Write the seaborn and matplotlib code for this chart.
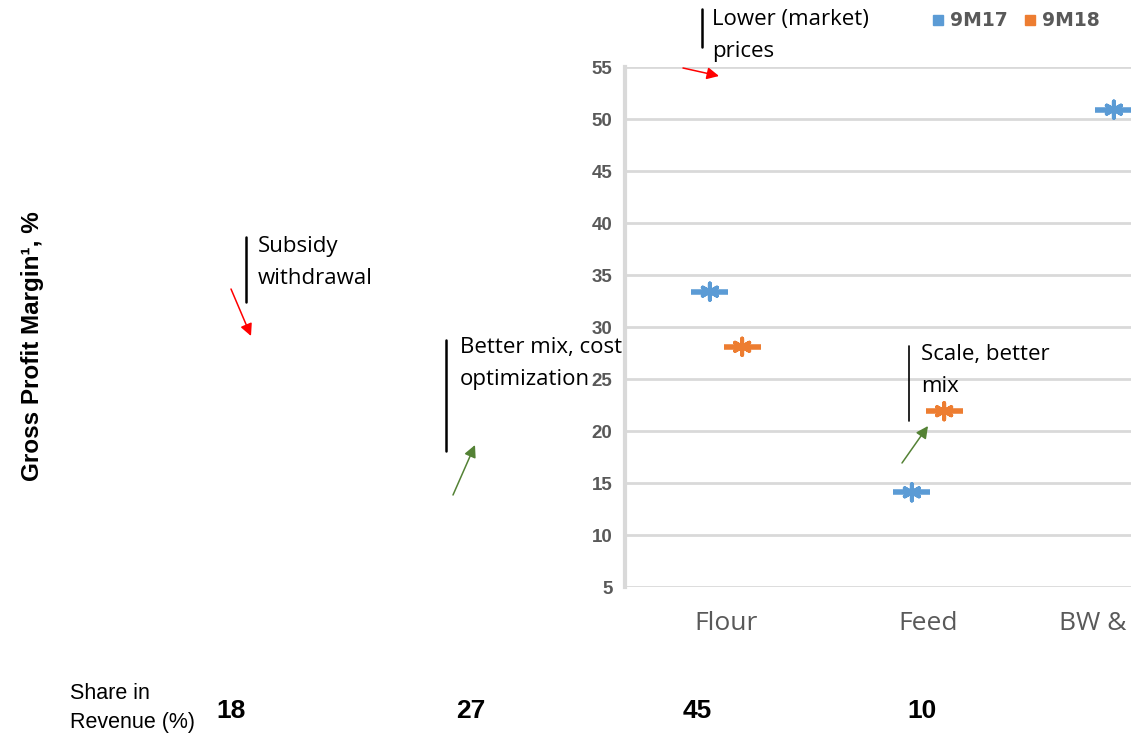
import numpy as np
import pandas as pd
import matplotlib
matplotlib.use("Agg")
import matplotlib.pyplot as plt
import seaborn as sns
from matplotlib.lines import Line2D

# ---------------- data ----------------
categories = ["Flour", "Feed", "BW & Pasta"]
series = ["9M17", "9M18"]
margin_9m17 = [33.4, 14.1, 50.9]
margin_9m18 = [28.1, 21.9, np.nan]
share_labels = ["18", "27", "45", "10"]
yticks = [5, 10, 15, 20, 25, 30, 35, 40, 45, 50, 55]

colors = {"9M17": "#5B9BD5", "9M18": "#ED7D31"}
offsets = {"9M17": -0.08, "9M18": 0.08}

rows = []
for s, vals in zip(series, [margin_9m17, margin_9m18]):
    for i, (c, v) in enumerate(zip(categories, vals)):
        rows.append({"cat": c, "pos": i + offsets[s], "series": s, "margin": v})
df = pd.DataFrame(rows).dropna()

sns.set_theme(style="white")
plt.rcParams["font.family"] = ["Liberation Sans", "DejaVu Sans"]

W, H = 1131, 740
fig = plt.figure(figsize=(W / 100, H / 100), dpi=100)

# axes: left spine at x=625, y=55 at 67, y=5 at 587, category spacing 202 px
ax_left = 625 / W
ax_bottom = (H - 587) / H
ax_w = 606 / W
ax_h = (587 - 67) / H
ax = fig.add_axes([ax_left, ax_bottom, ax_w, ax_h])

# dash part of Excel "star" marker
sns.scatterplot(data=df, x="pos", y="margin", hue="series", palette=colors,
                marker="_", s=700, linewidth=4.0, legend=False, ax=ax, zorder=3)
# asterisk part
sns.scatterplot(data=df, x="pos", y="margin", hue="series", palette=colors,
                marker=(6, 2, 0), s=140, linewidth=2.8, legend=False, ax=ax, zorder=4)

ax.set_xlim(-0.5, 2.5)
ax.set_ylim(5, 55)
ax.set_yticks(yticks)
ax.set_yticklabels([str(t) for t in yticks], fontsize=13.5, fontweight="bold", color="#595959")
ax.set_xticks(range(len(categories)))
ax.set_xticklabels(categories, fontsize=19, color="#595959", family=["Open Sans", "DejaVu Sans"])
ax.tick_params(axis="both", length=0)
ax.tick_params(axis="y", pad=9)
ax.tick_params(axis="x", pad=17.5)
ax.set_xlabel("")
ax.set_ylabel("")
ax.grid(axis="y", color="#D9D9D9", linewidth=2)
ax.grid(axis="x", visible=False)
for sp in ["top", "right", "bottom"]:
    ax.spines[sp].set_visible(False)
ax.spines["left"].set_color("#D9D9D9")
ax.spines["left"].set_linewidth(3)

# legend
handles = [Line2D([0], [0], marker="s", linestyle="", markersize=7,
                  markerfacecolor=colors[s], markeredgecolor=colors[s], label=s) for s in series]
fig.legend(handles=handles, loc="center left", bbox_to_anchor=(927 / W, 1 - 21 / H),
           ncol=2, frameon=False, handletextpad=0.05, columnspacing=0.55, handlelength=1.2,
           borderpad=0.0, borderaxespad=0.0,
           prop={"weight": "bold", "size": 13.5, "family": "DejaVu Sans"}, labelcolor="#595959")

# y label
fig.text(33 / W, 1 - 346 / H, "Gross Profit Margin\u00b9, %", rotation=90,
         ha="center", va="center", fontsize=17.5, fontweight="bold", color="black")

# annotations
def px(x, y):
    return (x, H - y)

annot_font = ["Open Sans", "DejaVu Sans"]

def note(tx, ty, text, lx, ly0, ly1, lw=1.8):
    fig.text(tx / W, 1 - ty / H, text, ha="left", va="top", fontsize=16,
             family=annot_font, color="black", linespacing=1.68)
    fig.add_artist(Line2D([lx / W, lx / W], [1 - ly0 / H, 1 - ly1 / H],
                          color="black", linewidth=lw))

def arrow(x0, y0, x1, y1, color):
    ax.annotate("", xy=px(x1, y1), xytext=px(x0, y0),
                xycoords="figure pixels", textcoords="figure pixels",
                arrowprops=dict(arrowstyle="-|>", color=color, lw=1.1,
                                mutation_scale=18, shrinkA=0, shrinkB=0),
                annotation_clip=False)

note(258, 236, "Subsidy\nwithdrawal", 246, 237, 302)
arrow(231, 289, 251, 336, "#FF0000")

note(460, 337, "Better mix, cost\noptimization", 446, 340, 451)
arrow(453, 495, 475, 445, "#548235")

note(712, 9, "Lower (market)\nprices", 702, 9, 47)
arrow(683, 68, 719, 76, "#FF0000")

note(921, 344, "Scale, better\nmix", 909, 346, 421, lw=1.2)
arrow(902, 463, 928, 426, "#548235")

# share in revenue row
fig.text(70 / W, 1 - 708 / H, "Share in\nRevenue (%)", ha="left", va="center",
         fontsize=15.5, family=["Liberation Sans", "DejaVu Sans"],
         color="black", linespacing=1.5)
share_x = [231, 471, 697, 922]
for x, lab in zip(share_x, share_labels):
    fig.text(x / W, 1 - 711 / H, lab, ha="center", va="center", fontsize=19,
             fontweight="bold", family=["Liberation Sans", "DejaVu Sans"],
             color="black")

fig.savefig("out.png", dpi=100)
